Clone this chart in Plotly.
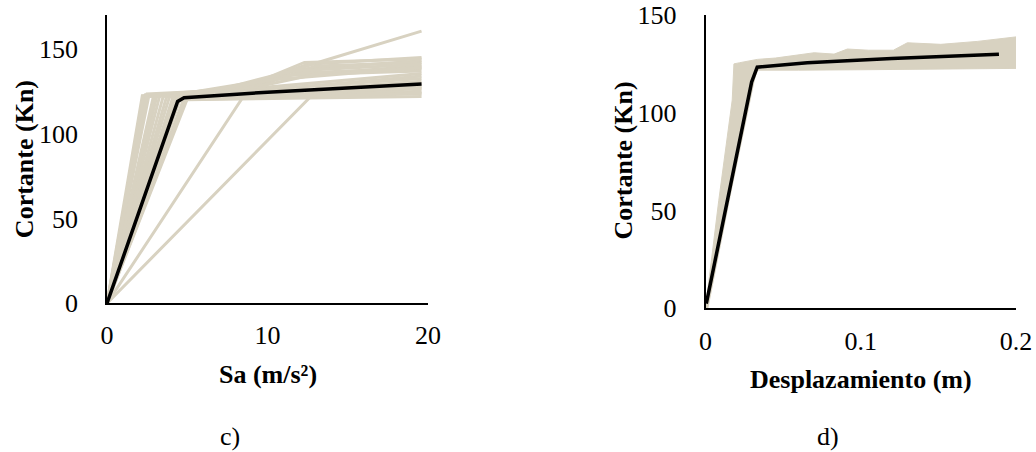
import plotly.graph_objects as go

# --- Panel c): base shear vs spectral acceleration, one curve per model ---
sa_curves = [
    [0, 2.2, 4.0, 8.0, 12.0, 19.6],
    [0, 2.4, 5.0, 9.0, 12.5, 19.6],
    [0, 2.6, 6.0, 10.0, 13.0, 19.6],
    [0, 2.9, 7.0, 11.0, 19.6],
    [0, 3.1, 8.0, 12.0, 19.6],
    [0, 3.3, 9.0, 13.0, 19.6],
    [0, 3.5, 10.0, 19.6],
    [0, 3.7, 10.0, 19.6],
    [0, 3.9, 11.0, 19.6],
    [0, 4.1, 12.0, 19.6],
    [0, 4.3, 12.0, 19.6],
    [0, 4.6, 19.6],
    [0, 4.8, 19.6],
    [0, 5.0, 19.6],
    [0, 4.4, 19.6],
    [0, 4.9, 19.6],
    [0, 8.6, 19.6],
    [0, 12.7, 19.6],
    [0, 4.2, 8.5, 13.5, 19.6],
    [0, 2.3, 5.0, 9.5, 12.3, 19.6],
    [0, 3.0, 7.0, 11.5, 19.6],
    [0, 2.5, 6.0, 10.5, 19.6],
]
shear_curves_c = [
    [0, 122.5, 123.5, 126, 138, 143],
    [0, 123, 124, 129, 141, 145],
    [0, 122, 123.5, 130, 140, 142],
    [0, 122.5, 125, 134, 140],
    [0, 122, 126, 136, 138.5],
    [0, 123, 127, 135, 137],
    [0, 122, 127.5, 135.5],
    [0, 121.5, 126, 134],
    [0, 122, 127, 132.5],
    [0, 121.5, 126, 131],
    [0, 121, 125, 129.5],
    [0, 121.5, 128],
    [0, 121, 126.5],
    [0, 120.5, 125],
    [0, 120, 123.5],
    [0, 120, 122],
    [0, 123.5, 127],
    [0, 122, 124],
    [0, 123, 128, 143, 160.5],
    [0, 122, 124, 131, 142, 144],
    [0, 123, 126, 137, 141],
    [0, 123.5, 125, 132, 139],
]
sa_mean = [0, 4.4, 4.8, 10.0, 19.6]
shear_mean_c = [0, 119, 121.2, 124.5, 129.3]

# --- Panel d): base shear vs roof displacement ---
# envelope of all model curves (upper edge left to right, then lower edge back)
disp_band = [0, 0.0032, 0.0085, 0.0172, 0.0183, 0.022, 0.027, 0.0333, 0.045,
             0.055, 0.070, 0.0828, 0.0914, 0.105, 0.121, 0.130, 0.1516, 0.175,
             0.201, 0.201, 0.150, 0.100, 0.060, 0.0335, 0.0315, 0.0165, 0.0015, 0]
shear_band = [0, 21, 55, 106.5, 125, 125.6, 126.5, 127.3, 128, 129, 130.7, 130,
              132.6, 132, 132, 135.8, 135, 136.5, 138.9, 122.7, 122.2, 122,
              121.8, 121.8, 117, 60, 0, 0]
disp_mean = [0.0005, 0.0297, 0.0333, 0.0656, 0.120, 0.189]
shear_mean_d = [2.4, 115.7, 123.3, 125.6, 127.7, 129.9]

BEIGE = "#D8D2C1"
SERIF = "Liberation Serif, Times New Roman, serif"

fig = go.Figure()

for xs, ys in zip(sa_curves, shear_curves_c):
    fig.add_trace(go.Scatter(x=xs, y=ys, mode="lines", xaxis="x", yaxis="y",
                             line=dict(color=BEIGE, width=3), hoverinfo="skip"))
fig.add_trace(go.Scatter(x=sa_mean, y=shear_mean_c, mode="lines", xaxis="x", yaxis="y",
                         line=dict(color="black", width=3.5)))

fig.add_trace(go.Scatter(x=disp_band, y=shear_band, mode="lines", xaxis="x2", yaxis="y2",
                         fill="toself", fillcolor=BEIGE, line=dict(color=BEIGE, width=1),
                         hoverinfo="skip"))
fig.add_trace(go.Scatter(x=disp_mean, y=shear_mean_d, mode="lines", xaxis="x2", yaxis="y2",
                         line=dict(color="black", width=3.5)))

axis_common = dict(showgrid=False, zeroline=False, showline=True, linecolor="black",
                   linewidth=1.5, ticks="", automargin=False,
                   tickfont=dict(family=SERIF, size=26, color="black"))

fig.update_layout(
    width=1036, height=452,
    margin=dict(l=0, r=0, t=0, b=0),
    paper_bgcolor="white", plot_bgcolor="white",
    showlegend=False,
    xaxis=dict(domain=[0.1033, 0.4131], range=[0, 20], tickvals=[0, 10, 20],
               anchor="y", ticklabelstandoff=8, **axis_common),
    yaxis=dict(domain=[0.329, 0.9668], range=[0, 170], tickvals=[0, 50, 100, 150],
               anchor="x", ticklabelstandoff=22, **axis_common),
    xaxis2=dict(domain=[0.681, 0.9807], range=[0, 0.2], tickvals=[0, 0.1, 0.2],
                ticktext=["0", "0.1", "0.2"], anchor="y2", ticklabelstandoff=9,
                **axis_common),
    yaxis2=dict(domain=[0.3179, 0.9668], range=[0, 150], tickvals=[0, 50, 100, 150],
                anchor="x2", ticklabelstandoff=22, **axis_common),
)

title_font = dict(family=SERIF, size=26, color="black")
label_font = dict(family=SERIF, size=26, color="black")
annotations = [
    dict(text="<b>Sa (m/s²)</b>", x=0.2587, y=0.1704, font=title_font),
    dict(text="<b>Desplazamiento (m)</b>", x=0.8311, y=0.1593, font=title_font),
    dict(text="<b>Cortante (Kn)</b>", x=0.0232, y=0.648, textangle=-90, font=title_font),
    dict(text="<b>Cortante (Kn)</b>", x=0.6009, y=0.6438, textangle=-90, font=title_font),
    dict(text="c)", x=0.222, y=0.0332, font=label_font),
    dict(text="d)", x=0.7992, y=0.0332, font=label_font),
]
for a in annotations:
    fig.add_annotation(xref="paper", yref="paper", showarrow=False,
                       xanchor="center", yanchor="middle", **a)

fig.write_html("out.html")
